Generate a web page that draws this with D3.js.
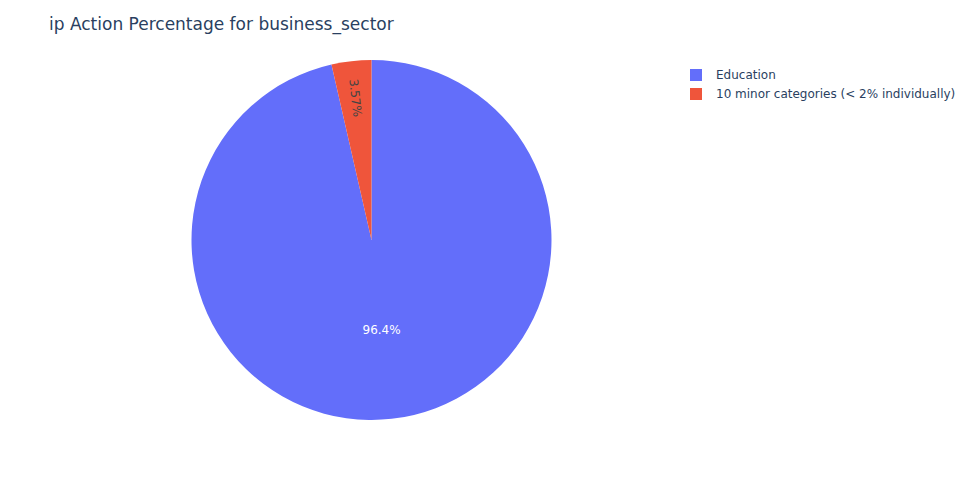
<!DOCTYPE html>
<html><head><meta charset="utf-8">
<script src="https://cdn.jsdelivr.net/npm/d3@7"></script>
<style>body{margin:0;background:#fff;} svg{display:block;font-family:"DejaVu Sans",verdana,arial,sans-serif;}</style>
</head><body>
<div id="chart"></div>
<script>
const categories = ["Education", "10 minor categories (< 2% individually)"];
const values = [27, 1];
const colors = ["#636efa", "#ef553b"];
const title = "ip Action Percentage for business_sector";

const W = 976, H = 500;
const svg = d3.select("#chart").append("svg").attr("width", W).attr("height", H);
const cx = 371.5, cy = 240, R = 180;

const total = d3.sum(values);
// clockwise from 12 o'clock
const pie = d3.pie().sort(null).value(d => d).startAngle(0).endAngle(2 * Math.PI);
const arcs = pie(values);
const arc = d3.arc().innerRadius(0).outerRadius(R);
const g = svg.append("g").attr("transform", `translate(${cx},${cy})`);
g.selectAll("path").data(arcs).join("path")
  .attr("d", arc)
  .attr("fill", (d, i) => colors[i]);

const fmt = v => d3.format(".3~r")(v / total * 100) + "%";
// large slice label
const big = arcs[0];
const bigMid = (big.startAngle + big.endAngle) / 2;
const rBig = 0.5 * R;
g.append("text")
  .attr("x", rBig * Math.sin(bigMid)).attr("y", -rBig * Math.cos(bigMid))
  .attr("text-anchor", "middle").attr("dy", "0.35em")
  .attr("fill", "#fff").attr("font-size", 12).text(fmt(values[0]));
// small slice label, radial
const sm = arcs[1];
const smMid = (sm.startAngle + sm.endAngle) / 2;
const rSm = 143;
const sx = rSm * Math.sin(smMid), sy = -rSm * Math.cos(smMid);
const rot = 90 + smMid * 180 / Math.PI;
g.append("text")
  .attr("transform", `translate(${sx},${sy}) rotate(${rot})`)
  .attr("text-anchor", "middle").attr("dy", "0.35em")
  .attr("fill", "#444").attr("font-size", 12).text(fmt(values[1]));

svg.append("text").attr("x", 49).attr("y", 29.5)
  .attr("font-size", 17).attr("fill", "#2a3f5f").text(title);

const leg = svg.append("g").attr("transform", "translate(690,75)");
categories.forEach((c, i) => {
  const row = leg.append("g").attr("transform", `translate(0,${i * 19})`);
  row.append("rect").attr("x", 0).attr("y", -6).attr("width", 12).attr("height", 12).attr("fill", colors[i]);
  row.append("text").attr("x", 26).attr("y", 0).attr("dy", "0.35em")
    .attr("font-size", 12).attr("fill", "#2a3f5f").text(c);
});
</script>
</body></html>
